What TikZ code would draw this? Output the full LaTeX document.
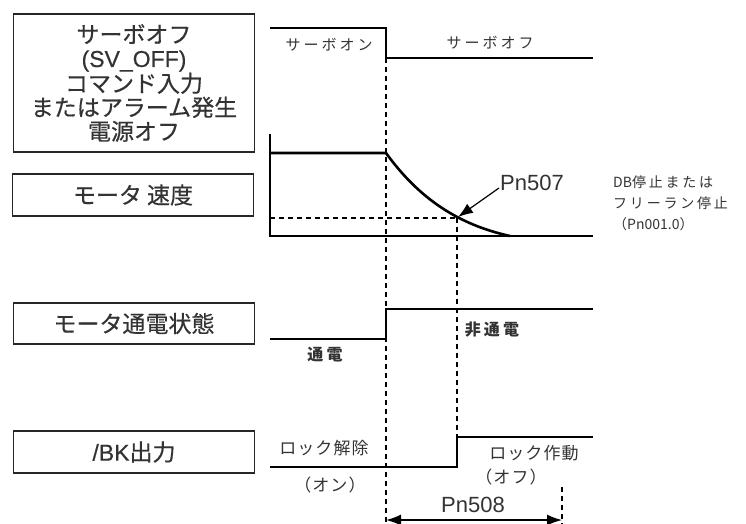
\documentclass[tikz,border=0pt]{standalone}
\usepackage{fontspec}
\setmainfont{Noto Sans CJK JP}
\newfontfamily\arialf{Liberation Sans}
\newfontfamily\boxf[FakeBold=0.5]{Noto Sans CJK JP}
\newfontfamily\boxlat[FakeBold=0.5]{Liberation Sans}
\newfontfamily\spacedf[LetterSpace=20]{Noto Sans CJK JP}
\newfontfamily\midf[LetterSpace=6]{Noto Sans CJK JP}
\newfontfamily\plainf{Noto Sans CJK JP}
\usetikzlibrary{arrows.meta}
\definecolor{txtgray}{HTML}{333333}
\begin{document}
\begin{tikzpicture}[x=1pt,y=-1pt,
  labelbox/.style={draw=black!85,line width=1.3pt,minimum width=241pt,inner sep=0pt,text=txtgray,font=\boxf\fontsize{23}{24}\selectfont,align=center},
  wave/.style={line width=2.6pt,line cap=butt,line join=miter},
  thin axis/.style={line width=1.3pt},
  guide/.style={line width=1.2pt,dash pattern=on 5pt off 4pt},
  small/.style={text=txtgray,font=\spacedf\fontsize{15}{17}\selectfont,inner sep=0pt},
  mid/.style={text=txtgray,font=\midf\fontsize{17}{19}\selectfont,inner sep=0pt},
  boldlab/.style={text=txtgray,font=\spacedf\bfseries\fontsize{16}{18}\selectfont,inner sep=0pt},
  pn/.style={text=txtgray,font=\arialf\fontsize{22}{24}\selectfont,inner sep=0pt}]
\useasboundingbox (0,0) rectangle (746,524);

% left label boxes
\node[labelbox,minimum height=138pt] (b1) at (134,83) {サーボオフ\\{\boxlat(SV\_OFF)}\\コマンド入力\\またはアラーム発生\\電源オフ};
\node[labelbox,minimum height=42pt] (b2) at (133,195) {モータ 速度};
\node[labelbox,minimum height=41pt] (b3) at (134,323.5) {モータ通電状態};
\node[labelbox,minimum height=42pt] (b4) at (134,452) {{\boxlat/BK}出力};

% servo signal
\draw[wave] (270,28) -- (386,28) -- (386,58) -- (593,58);
\node[small] (son) at (329,45) {サーボオン};
\node[small] (soff) at (490,43) {サーボオフ};

% speed plot
\draw[thin axis] (270,134) -- (270,236) -- (593,236);
\draw[wave] (270,153) -- (386,153) .. controls (420,200) and (460,225) .. (510,236);
\coordinate (p507) at (457,218);
\draw[guide] (270,218) -- (p507);
\node[pn,anchor=west] (l507) at (500,183) {Pn507};
\coordinate (a507) at (499,188);
\draw[line width=1.2pt,-{Latex[length=15pt,width=11pt]}] (a507) -- (458,217);
\node[small,anchor=west,align=left,font=\spacedf\fontsize{14}{21}\selectfont] (db) at (613,203) {{\plainf DB}停止または\\フリーラン停止\\{\plainf（Pn001.0）}};

% dashed guides
\draw[guide] (386,58) -- (386,524);
\draw[guide] (457,218) -- (457,437);
\draw[guide] (562,487) -- (562,524);

% motor power
\draw[wave] (270,339) -- (386,339) -- (386,309) -- (593,309);
\node[boldlab] (on1) at (325,355) {通電};
\node[boldlab] (off1) at (492,330) {非通電};

% BK output
\draw[wave] (270,467) -- (457,467) -- (457,437) -- (593,437);
\node[mid] (unlock) at (324,448) {ロック解除};
\node[mid] (onp) at (330,485) {（オン）};
\node[mid] (lock) at (534,453) {ロック作動};
\node[mid] (offp) at (511,477) {（オフ）};

% Pn508
\node[pn] (l508) at (473,505) {Pn508};
\coordinate (a1) at (386,520);
\coordinate (a2) at (562,520);
\draw[line width=1.4pt,{Latex[length=15pt,width=11pt]}-{Latex[length=15pt,width=11pt]}] (a1) -- (a2);
\end{tikzpicture}
\end{document}
